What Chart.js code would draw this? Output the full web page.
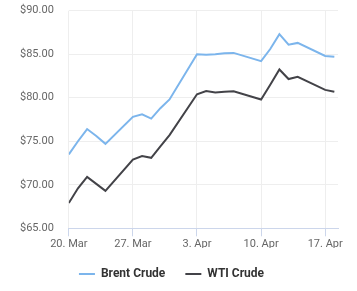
<!DOCTYPE html>
<html>
<head>
<meta charset="utf-8">
<script src="https://cdn.jsdelivr.net/npm/chart.js@4/dist/chart.umd.min.js"></script>
<style>
  html, body { margin: 0; padding: 0; background: #fff; }
  #wrap { width: 357px; height: 291px; }
</style>
</head>
<body>
<div id="wrap"><canvas id="oilChart"></canvas></div>
<script>
// Trading days (2023)
const dates = [
    "2023-03-20", "2023-03-21", "2023-03-22", "2023-03-23", "2023-03-24",
    "2023-03-27", "2023-03-28", "2023-03-29", "2023-03-30", "2023-03-31",
    "2023-04-03", "2023-04-04", "2023-04-05", "2023-04-06", "2023-04-07",
    "2023-04-10", "2023-04-11", "2023-04-12", "2023-04-13", "2023-04-14",
    "2023-04-17", "2023-04-18"
];

const brent = [73.5, 75.0, 76.4, 75.6, 74.7, 77.8, 78.1, 77.6, 78.8, 79.8,
    85.0, 84.95, 85.0, 85.1, 85.15, 84.2, 85.6, 87.3, 86.1, 86.3, 84.8, 84.7];

const wti = [67.9, 69.6, 70.9, 70.1, 69.3, 72.9, 73.3, 73.1, 74.4, 75.7,
    80.4, 80.77, 80.6, 80.7, 80.75, 79.8, 81.5, 83.25, 82.15, 82.4, 80.9, 80.7];

// x tick labels (one per week, Mondays)
const xTickLabels = ["20. Mar", "27. Mar", "3. Apr", "10. Apr", "17. Apr"];
const yTicks = [65, 70, 75, 80, 85, 90];

const DAY = 86400000;
const start = Date.parse(dates[0]);
const dayOf = d => (Date.parse(d) - start) / DAY;

const brentPts = dates.map((d, i) => ({ x: dayOf(d), y: brent[i] }));
const wtiPts = dates.map((d, i) => ({ x: dayOf(d), y: wti[i] }));

const ctx = document.getElementById("oilChart").getContext("2d");
new Chart(ctx, {
    type: "line",
    data: {
        datasets: [{
            label: "Brent Crude",
            data: brentPts,
            borderColor: "#7cb5ec",
            backgroundColor: "#7cb5ec",
            borderWidth: 2,
            pointRadius: 0,
            tension: 0
        }, {
            label: "WTI Crude",
            data: wtiPts,
            borderColor: "#434348",
            backgroundColor: "#434348",
            borderWidth: 2,
            pointRadius: 0,
            tension: 0
        }]
    },
    options: {
        responsive: true,
        maintainAspectRatio: false,
        animation: false,
        layout: { padding: { left: 5, right: 19, top: 10.7, bottom: 1 } },
        plugins: {
            tooltip: { enabled: false },
            legend: {
                position: "bottom",
                labels: {
                    boxWidth: 16,
                    boxHeight: 2,
                    padding: 20,
                    color: "#333333",
                    font: { family: "Roboto", size: 12, weight: "bold" },
                    generateLabels: chart =>
                        Chart.defaults.plugins.legend.labels.generateLabels(chart)
                            .map(l => Object.assign(l, { lineWidth: 0 }))
                }
            }
        },
        scales: {
            x: {
                type: "linear",
                min: 0,
                max: 29.4,
                afterBuildTicks: scale => {
                    scale.ticks = xTickLabels.map((_, i) => ({ value: i * 7 }));
                },
                afterFit: scale => { scale.height -= 3.5; },
                ticks: {
                    color: "#666666",
                    font: { family: "Roboto", size: 11 },
                    padding: 1,
                    maxRotation: 0,
                    callback: (v) => xTickLabels[Math.round(v / 7)]
                },
                grid: {
                    color: "#eeeeee",
                    tickColor: "#ccd6eb",
                    tickLength: 8
                },
                border: { color: "#ccd6eb" }
            },
            y: {
                min: 65,
                max: 90,
                afterBuildTicks: scale => {
                    scale.ticks = yTicks.map(v => ({ value: v }));
                },
                // tick padding also gets added above/below the axis; drop that
                afterFit: scale => {
                    scale.paddingTop = 6;
                    scale.paddingBottom = 6;
                },
                ticks: {
                    color: "#666666",
                    font: { family: "Roboto", size: 11 },
                    padding: 15,
                    callback: v => "$" + v.toFixed(2)
                },
                grid: { color: "#eeeeee", drawTicks: false },
                border: { display: false }
            }
        }
    }
});
</script>
</body>
</html>
